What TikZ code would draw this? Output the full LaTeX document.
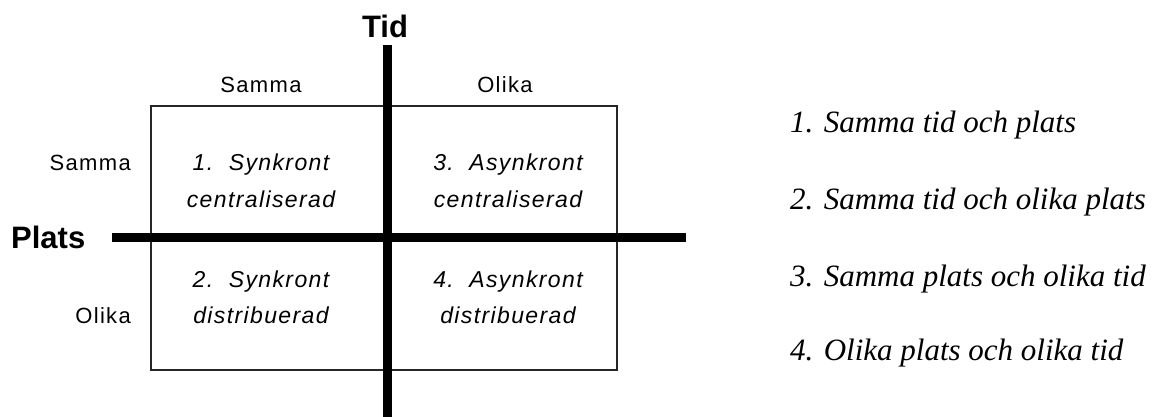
\documentclass[tikz,border=0pt]{standalone}
\usepackage{fontspec}
\setmainfont{Liberation Serif}
\newfontfamily\axisfont{Liberation Sans}
\newfontfamily\cellfont{Liberation Sans}[LetterSpace=6]
\begin{document}
\begin{tikzpicture}[x=1pt,y=-1pt,
  axislabel/.style={font=\axisfont\fontsize{31}{34}\selectfont\bfseries,inner sep=0pt,anchor=base},
  headlabel/.style={font=\cellfont\fontsize{22}{26}\selectfont,inner sep=0pt,anchor=base},
  celltext/.style={font=\cellfont\fontsize{23}{27}\selectfont\itshape,inner sep=0pt,anchor=base},
  listitem/.style={font=\fontsize{31}{36}\selectfont\itshape,inner sep=0pt,anchor=base west},
  axisline/.style={line width=9pt},
  frame/.style={line width=1.7pt,draw=black!85}]
\useasboundingbox (0,0) rectangle (1159,417);

% outer frame of the 2x2 matrix
\draw[frame] (151,106) rectangle (617,370);

% axis end points
\coordinate (tidtop) at (387.5,45);
\coordinate (tidbot) at (387.5,417);
\coordinate (platsleft) at (112,237);
\coordinate (platsright) at (686,237);

% thick axes
\draw[axisline] (tidtop) -- (tidbot);
\draw[axisline] (platsleft) -- (platsright);

% axis titles
\node[axislabel] (tid) at (385,38) {Tid};
\node[axislabel,anchor=base west] (plats) at (11,248) {Plats};

% column headings (time)
\node[headlabel] (colsame) at (261,93) {Samma};
\node[headlabel] (coldiff) at (505,93) {Olika};

% row headings (place)
\node[headlabel,anchor=base east] (rowsame) at (131,171) {Samma};
\node[headlabel,anchor=base east] (rowdiff) at (131,323) {Olika};

% cell contents
\node[celltext] (c1a) at (261,171) {1.\ \ Synkront};
\node[celltext] (c1b) at (261,207) {centraliserad};
\node[celltext] (c3a) at (508,171) {3.\ \ Asynkront};
\node[celltext] (c3b) at (508,207) {centraliserad};
\node[celltext] (c2a) at (261,287) {2.\ \ Synkront};
\node[celltext] (c2b) at (261,323) {distribuerad};
\node[celltext] (c4a) at (508,287) {4.\ \ Asynkront};
\node[celltext] (c4b) at (508,323) {distribuerad};

% explanation list
\node[listitem] (l1) at (790,133) {1. Samma tid och plats};
\node[listitem] (l2) at (790,209) {2. Samma tid och olika plats};
\node[listitem] (l3) at (790,286) {3. Samma plats och olika tid};
\node[listitem] (l4) at (790,360) {4. Olika plats och olika tid};
\end{tikzpicture}
\end{document}
